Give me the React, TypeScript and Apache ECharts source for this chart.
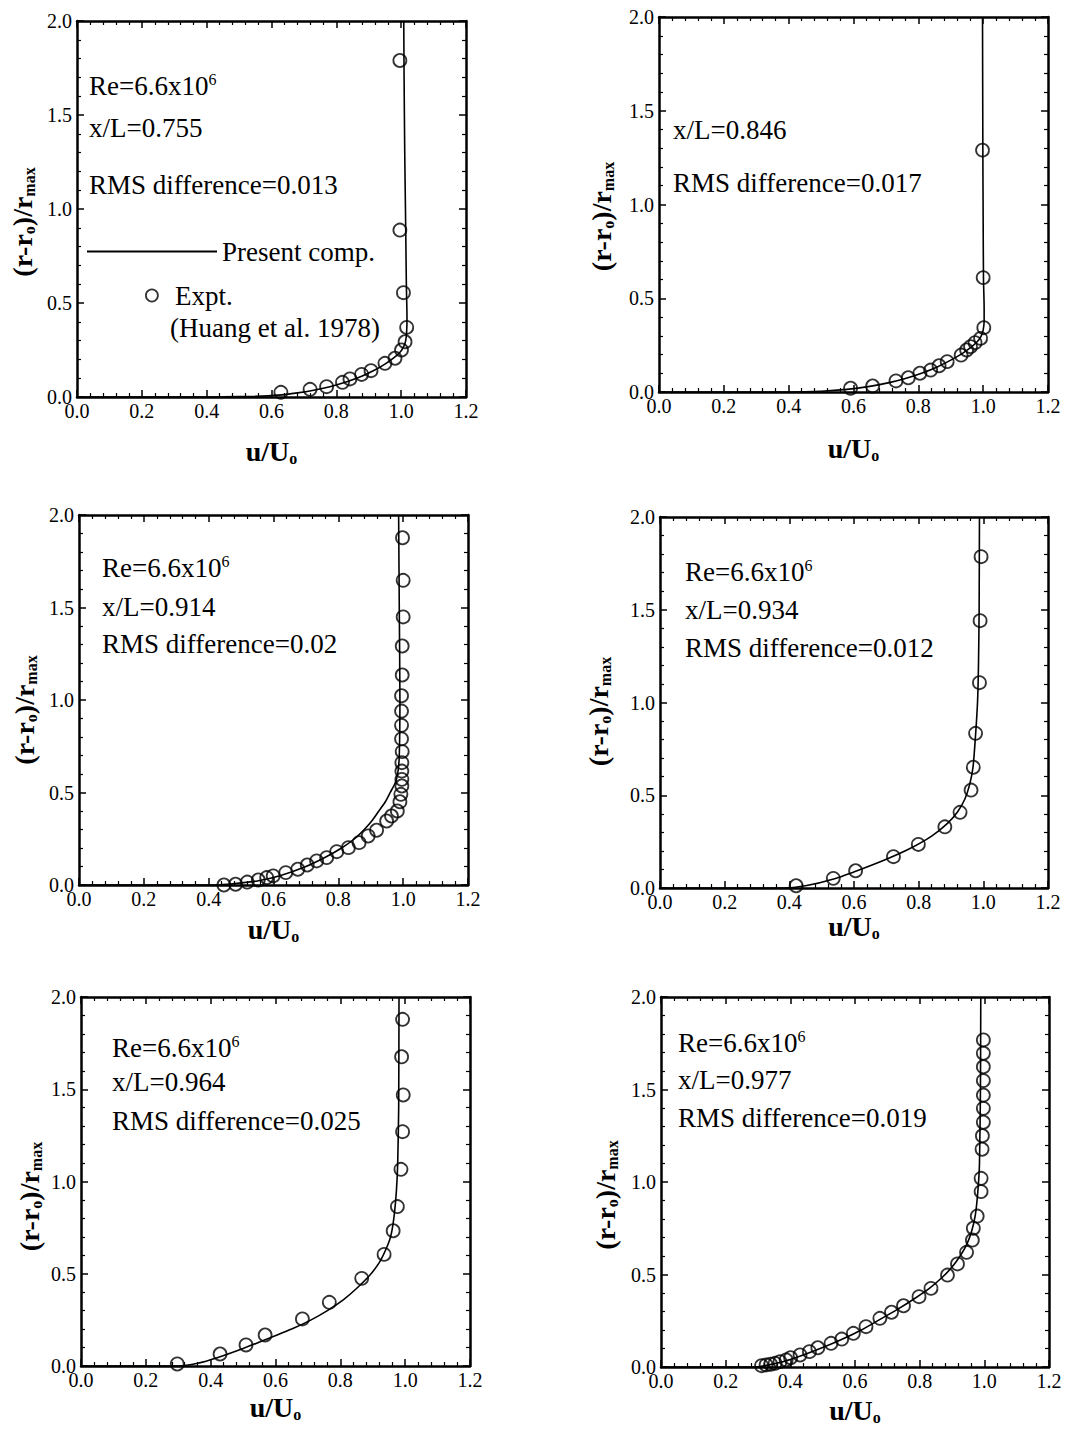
import React, { useEffect, useRef } from 'react';
import * as echarts from 'echarts';

const FONT = '"Liberation Serif", "Times New Roman", Times, serif';

// axis ranges / ticks
const xRange = [0, 1.2];
const xStep = 0.2;
const yRange = [0, 2.0];
const yStep = 0.5;

// ---- panel x/L = 0.755 ----
const comp755: number[][] = [
  [0.0, 0.0], [0.45, 0.001], [0.55, 0.004], [0.62, 0.01], [0.68, 0.022], [0.73, 0.036], [0.78, 0.055],
  [0.83, 0.08], [0.88, 0.112], [0.92, 0.145], [0.95, 0.175], [0.975, 0.205], [0.995, 0.235], [1.007, 0.265],
  [1.014, 0.3], [1.017, 0.35], [1.018, 0.42], [1.016, 0.6], [1.014, 0.9], [1.011, 1.3], [1.009, 1.7], [1.008, 2.0],
];
const expt755: number[][] = [
  [0.629, 0.025], [0.719, 0.041], [0.77, 0.055], [0.819, 0.078], [0.842, 0.096], [0.878, 0.12], [0.907, 0.14],
  [0.95, 0.179], [0.981, 0.206], [1.001, 0.25], [1.012, 0.294], [1.017, 0.37], [1.007, 0.555], [0.996, 0.888],
  [0.996, 1.79],
];
const notes755 = ['Re=6.6x10^6', 'x/L=0.755', 'RMS difference=0.013'];

// ---- panel x/L = 0.846 ----
const comp846: number[][] = [
  [0.0, 0.0], [0.4, 0.0], [0.5, 0.004], [0.58, 0.014], [0.65, 0.03], [0.71, 0.05], [0.76, 0.072], [0.81, 0.1],
  [0.86, 0.135], [0.9, 0.17], [0.935, 0.205], [0.96, 0.235], [0.98, 0.265], [0.993, 0.295], [1.0, 0.33],
  [1.003, 0.38], [1.003, 0.45], [1.001, 0.6], [1.0, 0.9], [0.999, 1.3], [0.998, 2.0],
];
const expt846: number[][] = [
  [0.591, 0.02], [0.659, 0.032], [0.731, 0.059], [0.769, 0.076], [0.805, 0.1], [0.838, 0.117], [0.864, 0.14],
  [0.889, 0.162], [0.932, 0.197], [0.949, 0.224], [0.961, 0.242], [0.975, 0.263], [0.992, 0.286], [1.002, 0.343],
  [1.0, 0.61], [0.998, 1.29],
];
const notes846 = ['x/L=0.846', 'RMS difference=0.017'];

// ---- panel x/L = 0.914 ----
const comp914: number[][] = [
  [0.0, 0.0], [0.42, 0.0], [0.48, 0.008], [0.55, 0.022], [0.62, 0.05], [0.7, 0.1], [0.76, 0.15], [0.81, 0.2],
  [0.85, 0.25], [0.88, 0.3], [0.905, 0.35], [0.925, 0.4], [0.945, 0.45], [0.96, 0.5], [0.975, 0.55],
  [0.983, 0.6], [0.988, 0.7], [0.99, 1.0], [0.988, 1.5], [0.986, 2.0],
];
const expt914: number[][] = [
  [0.447, 0.0], [0.483, 0.004], [0.519, 0.016], [0.553, 0.027], [0.579, 0.04], [0.599, 0.049], [0.638, 0.067],
  [0.675, 0.085], [0.704, 0.108], [0.733, 0.13], [0.764, 0.148], [0.795, 0.18], [0.831, 0.202], [0.864, 0.229],
  [0.892, 0.265], [0.918, 0.296], [0.949, 0.346], [0.964, 0.373], [0.982, 0.4], [0.99, 0.45], [0.993, 0.49],
  [0.996, 0.535], [0.996, 0.571], [0.996, 0.616], [0.996, 0.661], [0.997, 0.721], [0.995, 0.79], [0.995, 0.863],
  [0.995, 0.94], [0.995, 1.023], [0.997, 1.135], [0.997, 1.292], [1.0, 1.449], [1.0, 1.647], [0.998, 1.877],
];
const notes914 = ['Re=6.6x10^6', 'x/L=0.914', 'RMS difference=0.02'];

// ---- panel x/L = 0.934 ----
const comp934: number[][] = [
  [0.0, 0.0], [0.38, 0.0], [0.45, 0.012], [0.54, 0.05], [0.62, 0.1], [0.7, 0.155], [0.77, 0.21], [0.84, 0.28],
  [0.89, 0.35], [0.92, 0.41], [0.943, 0.48], [0.958, 0.56], [0.968, 0.65], [0.975, 0.8], [0.982, 1.0],
  [0.985, 1.2], [0.987, 1.5], [0.988, 2.0],
];
const expt934: number[][] = [
  [0.421, 0.012], [0.536, 0.052], [0.605, 0.093], [0.722, 0.169], [0.799, 0.235], [0.881, 0.33], [0.928, 0.408],
  [0.962, 0.528], [0.969, 0.651], [0.976, 0.834], [0.988, 1.107], [0.99, 1.441], [0.993, 1.786],
];
const notes934 = ['Re=6.6x10^6', 'x/L=0.934', 'RMS difference=0.012'];

// ---- panel x/L = 0.964 ----
const comp964: number[][] = [
  [0.0, 0.0], [0.3, 0.0], [0.36, 0.015], [0.42, 0.045], [0.5, 0.095], [0.58, 0.15], [0.65, 0.2], [0.71, 0.25],
  [0.76, 0.3], [0.81, 0.36], [0.85, 0.42], [0.89, 0.49], [0.92, 0.56], [0.94, 0.63], [0.955, 0.7], [0.965, 0.8],
  [0.973, 0.95], [0.977, 1.1], [0.98, 1.4], [0.981, 2.0],
];
const expt964: number[][] = [
  [0.297, 0.011], [0.429, 0.065], [0.509, 0.114], [0.568, 0.168], [0.683, 0.255], [0.766, 0.345], [0.866, 0.475],
  [0.935, 0.605], [0.963, 0.733], [0.976, 0.864], [0.987, 1.066], [0.992, 1.27], [0.994, 1.469], [0.989, 1.676],
  [0.992, 1.879],
];
const notes964 = ['Re=6.6x10^6', 'x/L=0.964', 'RMS difference=0.025'];

// ---- panel x/L = 0.977 ----
const comp977: number[][] = [
  [0.0, 0.0], [0.29, 0.0], [0.33, 0.01], [0.38, 0.03], [0.44, 0.065], [0.5, 0.105], [0.56, 0.15], [0.62, 0.2],
  [0.68, 0.26], [0.73, 0.31], [0.78, 0.365], [0.83, 0.425], [0.87, 0.485], [0.9, 0.54], [0.925, 0.6],
  [0.945, 0.66], [0.96, 0.73], [0.972, 0.82], [0.98, 0.95], [0.985, 1.1], [0.988, 1.5], [0.989, 2.0],
];
const expt977: number[][] = [
  [0.311, 0.007], [0.325, 0.011], [0.339, 0.015], [0.353, 0.02], [0.368, 0.029], [0.387, 0.038], [0.401, 0.05],
  [0.43, 0.065], [0.459, 0.083], [0.485, 0.104], [0.526, 0.128], [0.559, 0.151], [0.595, 0.182], [0.634, 0.218],
  [0.677, 0.263], [0.713, 0.296], [0.75, 0.331], [0.798, 0.38], [0.835, 0.425], [0.886, 0.497], [0.917, 0.557],
  [0.945, 0.62], [0.963, 0.686], [0.966, 0.75], [0.978, 0.816], [0.99, 0.948], [0.99, 1.02], [0.993, 1.177],
  [0.994, 1.25], [0.997, 1.323], [0.997, 1.398], [0.997, 1.47], [0.997, 1.548], [0.997, 1.623], [0.997, 1.696],
  [0.997, 1.768],
];
const notes977 = ['Re=6.6x10^6', 'x/L=0.977', 'RMS difference=0.019'];

const legendNames = ['Present comp.', 'Expt.'];
const legendSource = '(Huang et al. 1978)';
const xTitle = '{a|u/U}{s|o}';
const yTitle = '{a|(r-r}{s|o}{a|)/r}{s|max}';

// layout (not data)
const layouts = [
  { left: 77, top: 21, width: 389, height: 376, notesX: 89, notesY: [86, 128, 185], xGap: 39, yGap: 40, yShift: 26 },
  { left: 659, top: 17, width: 389, height: 375, notesX: 673, notesY: [130, 183], xGap: 41, yGap: 43, yShift: 24 },
  { left: 79, top: 515, width: 389, height: 370, notesX: 102, notesY: [568, 607, 644], xGap: 29, yGap: 40, yShift: 20 },
  { left: 660, top: 517, width: 388, height: 371, notesX: 685, notesY: [572, 610, 648], xGap: 18, yGap: 47, yShift: 18 },
  { left: 81, top: 997, width: 389, height: 369, notesX: 112, notesY: [1048, 1082, 1121], xGap: 26, yGap: 37, yShift: 30 },
  { left: 661, top: 997, width: 388, height: 370, notesX: 678, notesY: [1043, 1080, 1118], xGap: 28, yGap: 41, yShift: 26 },
];

const panels = [
  { comp: comp755, expt: expt755, notes: notes755 },
  { comp: comp846, expt: expt846, notes: notes846 },
  { comp: comp914, expt: expt914, notes: notes914 },
  { comp: comp934, expt: expt934, notes: notes934 },
  { comp: comp964, expt: expt964, notes: notes964 },
  { comp: comp977, expt: expt977, notes: notes977 },
];

const titleRich = {
  a: { fontFamily: FONT, fontSize: 28, fontWeight: 'bold', color: '#000', lineHeight: 30 },
  s: { fontFamily: FONT, fontSize: 16, fontWeight: 'bold', color: '#000', lineHeight: 16, verticalAlign: 'bottom' },
};

const noteRich = {
  a: { fontFamily: FONT, fontSize: 27, fill: '#000', lineHeight: 30 },
  p: { fontFamily: FONT, fontSize: 16, fill: '#000', lineHeight: 16, verticalAlign: 'top' },
};

function noteText(s: string) {
  const parts = s.split('^');
  if (parts.length === 1) return `{a|${parts[0]}}`;
  return `{a|${parts[0]}}{p|${parts[1]}}`;
}

function makeAxis(kind: 'x' | 'y', gridIndex: number, primary: boolean) {
  const isX = kind === 'x';
  const l = layouts[gridIndex];
  const base: any = {
    type: 'value',
    gridIndex,
    min: isX ? xRange[0] : yRange[0],
    max: isX ? xRange[1] : yRange[1],
    interval: isX ? xStep : yStep,
    position: isX ? (primary ? 'bottom' : 'top') : primary ? 'left' : 'right',
    axisLine: { show: true, onZero: false, lineStyle: { color: '#000', width: 2.5 } },
    axisTick: { show: true, inside: true, length: 7, lineStyle: { color: '#000', width: 1.5 } },
    minorTick: { show: true, splitNumber: 5, length: 4, lineStyle: { color: '#000', width: 1.2 } },
    splitLine: { show: false },
    minorSplitLine: { show: false },
    axisLabel: {
      show: primary,
      color: '#000',
      fontFamily: FONT,
      fontSize: 20,
      margin: isX ? 4 : 5,
      formatter: (v: number) => v.toFixed(1),
    },
  };
  if (primary) {
    base.name = isX ? xTitle : yTitle;
    base.nameLocation = 'middle';
    base.nameGap = isX ? l.xGap : l.yGap;
    if (!isX) base.nameRotate = 90;
    base.nameTextStyle = {
      fontFamily: FONT,
      fontSize: 28,
      fontWeight: 'bold',
      color: '#000',
      rich: titleRich,
      padding: isX ? 0 : [0, l.yShift, 0, 0],
    };
  }
  return base;
}

export default function App() {
  const ref = useRef<HTMLDivElement>(null);
  useEffect(() => {
    if (!ref.current) return;
    const chart = echarts.init(ref.current, undefined, { renderer: 'svg' });

    const grid = layouts.map((l) => ({ left: l.left, top: l.top, width: l.width, height: l.height }));
    const xAxis: any[] = [];
    const yAxis: any[] = [];
    const series: any[] = [];
    const graphic: any[] = [];

    panels.forEach((p, i) => {
      xAxis.push(makeAxis('x', i, true));
      xAxis.push(makeAxis('x', i, false));
      yAxis.push(makeAxis('y', i, true));
      yAxis.push(makeAxis('y', i, false));
      series.push({
        type: 'line',
        name: legendNames[0],
        xAxisIndex: 2 * i,
        yAxisIndex: 2 * i,
        data: p.comp,
        symbol: 'none',
        showSymbol: false,
        smooth: 0.2,
        lineStyle: { color: '#000', width: 1.6 },
        itemStyle: { color: '#000' },
        z: 2,
      });
      series.push({
        type: 'scatter',
        name: legendNames[1],
        xAxisIndex: 2 * i,
        yAxisIndex: 2 * i,
        data: p.expt,
        symbol: 'circle',
        symbolSize: 13,
        itemStyle: { color: 'rgba(0,0,0,0)', borderColor: '#000', borderWidth: 1.8 },
        z: 3,
      });
      const l = layouts[i];
      p.notes.forEach((n, k) => {
        graphic.push({
          type: 'text',
          x: l.notesX,
          y: l.notesY[k],
          style: {
            text: noteText(n),
            rich: noteRich,
            fill: '#000',
            fontFamily: FONT,
            fontSize: 27,
            align: 'left',
            verticalAlign: 'middle',
          },
        });
      });
    });

    graphic.push({
      type: 'text',
      x: 170,
      y: 328,
      style: {
        text: legendSource,
        fill: '#000',
        fontFamily: FONT,
        fontSize: 27,
        align: 'left',
        verticalAlign: 'middle',
      },
    });

    chart.setOption({
      animation: false,
      backgroundColor: '#fff',
      color: ['#000'],
      grid,
      xAxis,
      yAxis,
      series,
      graphic,
      legend: [
        {
          left: 87,
          top: 238,
          padding: 0,
          itemWidth: 130,
          itemHeight: 2,
          itemGap: 0,
          data: [{ name: legendNames[0], icon: 'rect', itemStyle: { color: '#000', borderWidth: 0 } }],
          selectedMode: false,
          textStyle: { fontFamily: FONT, fontSize: 27, color: '#000' },
        },
        {
          left: 145,
          top: 282,
          padding: 0,
          itemWidth: 14,
          itemHeight: 12,
          data: [
            {
              name: legendNames[1],
              icon: 'circle',
              itemStyle: { color: 'rgba(0,0,0,0)', borderColor: '#000', borderWidth: 1.8 },
            },
          ],
          selectedMode: false,
          textStyle: { fontFamily: FONT, fontSize: 27, color: '#000', padding: [0, 0, 0, 11] },
        },
      ],
    });
    return () => chart.dispose();
  }, []);
  return (
    <div
      ref={ref}
      style={{ position: 'absolute', left: 0, top: 0, width: 1065, height: 1435, background: '#fff' }}
    />
  );
}
